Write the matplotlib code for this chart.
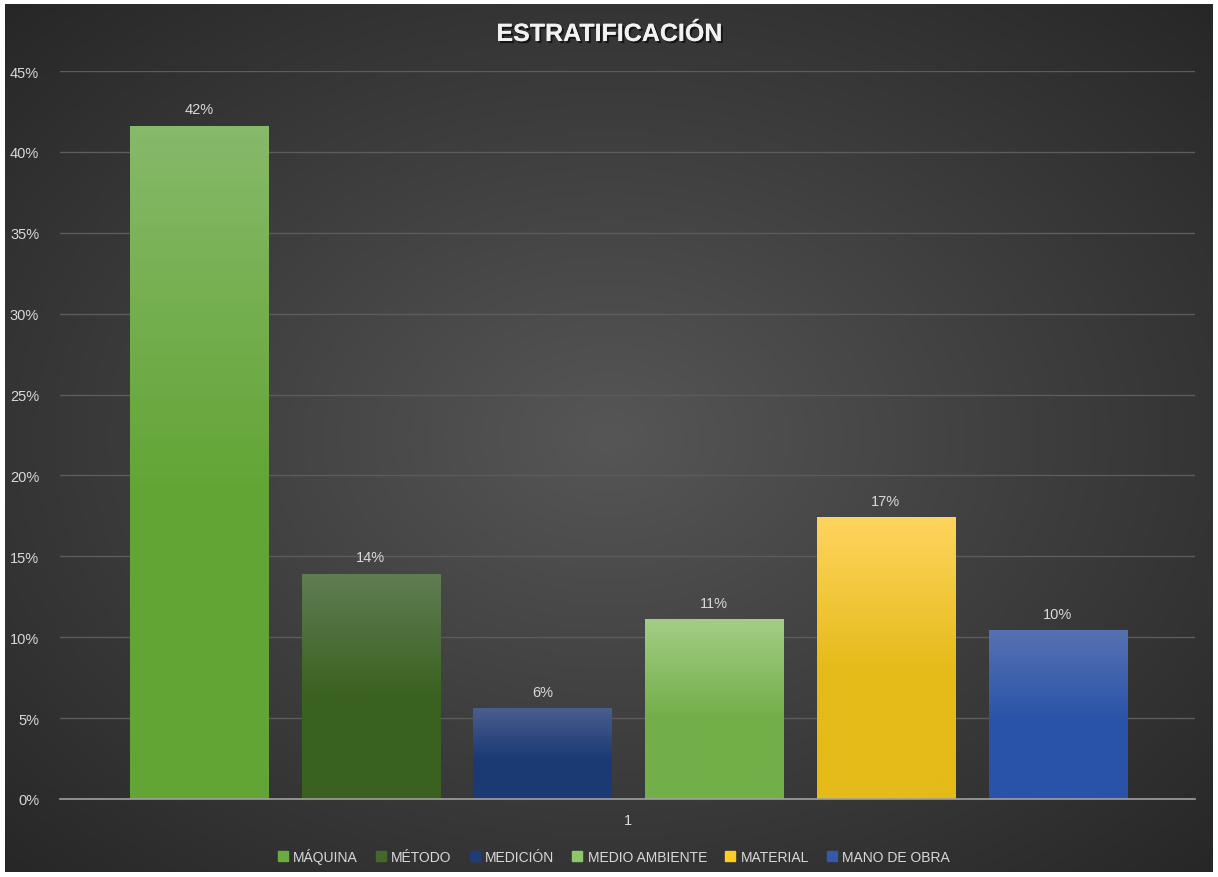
import numpy as np
import matplotlib.pyplot as plt
from matplotlib.colors import LinearSegmentedColormap
from matplotlib.patches import Rectangle
import matplotlib.patheffects as pe

plt.rcParams['font.family'] = ['Liberation Sans Narrow', 'Liberation Sans', 'DejaVu Sans']

categories = ['MÁQUINA', 'MÉTODO', 'MEDICIÓN', 'MEDIO AMBIENTE', 'MATERIAL', 'MANO DE OBRA']
values = [0.416, 0.139, 0.056, 0.111, 0.174, 0.104]
labels = ['42%', '14%', '6%', '11%', '17%', '10%']
top_colors = ['#86b969', '#5f7d52', '#4a5e8e', '#a3cd86', '#ffd45e', '#5671b2']
bottom_colors = ['#62a534', '#3a6120', '#1b3a74', '#72af48', '#e4bb18', '#2853a8']
legend_colors = ['#6aad3e', '#43692a', '#1f3c78', '#8ec66a', '#ffcc22', '#3558ab']
yticks = [0, 0.05, 0.10, 0.15, 0.20, 0.25, 0.30, 0.35, 0.40, 0.45]

fig = plt.figure(figsize=(12.18, 8.78), dpi=100, facecolor='white')

# dark radial background
bg = fig.add_axes([5 / 1218, 5 / 878, 1208 / 1218, 868 / 878])
yy, xx = np.mgrid[-1:1:300j, -1:1:400j]
r = np.sqrt(xx ** 2 + yy ** 2) / np.sqrt(2)
bg_cmap = LinearSegmentedColormap.from_list('bg', ['#565656', '#3e3e3e', '#272727'])
bg.imshow(r, cmap=bg_cmap, aspect='auto', extent=(0, 1, 0, 1))
bg.set_axis_off()

ax = fig.add_axes([60 / 1218, 1 - 800 / 878, 1135 / 1218, 728 / 878])
ax.patch.set_alpha(0)
x = np.arange(len(values))
w = 0.805
for i, v in enumerate(values):
    cmap = LinearSegmentedColormap.from_list('b%d' % i,
                                             [(0, bottom_colors[i]), (0.45, bottom_colors[i]), (1, top_colors[i])])
    grad = np.linspace(1, 0, 100).reshape(-1, 1)
    ax.imshow(grad, cmap=cmap, aspect='auto', extent=(x[i] - w / 2, x[i] + w / 2, 0, v), zorder=3)
    ax.text(x[i], v + 0.006, labels[i], ha='center', va='bottom', color='#d9d9d9', fontsize=10.5, zorder=4)

ax.set_xlim(-0.81, 5.80)
ax.set_ylim(0, 0.45)
ax.set_yticks(yticks)
ax.set_yticklabels(['%d%%' % round(t * 100) for t in yticks], color='#d9d9d9', fontsize=10.5)
ax.set_xticks([2.5])
ax.set_xticklabels(['1'], color='#d9d9d9', fontsize=10.5)
ax.tick_params(length=0, pad=10)
ax.tick_params(axis='y', pad=15)
ax.grid(axis='y', color='#5c5c5c', lw=1, zorder=1)
for s in ['top', 'right', 'left']:
    ax.spines[s].set_visible(False)
ax.spines['bottom'].set_color('#a0a0a0')
ax.spines['bottom'].set_linewidth(1.2)
ax.spines['bottom'].set_zorder(5)

fig.text(0.5, 1 - 35 / 878, 'ESTRATIFICACIÓN', ha='center', va='center', color='#f2f2f2',
         fontsize=18, fontweight='bold',
         path_effects=[pe.withSimplePatchShadow(offset=(1.5, -1.5), shadow_rgbFace='black', alpha=0.6), pe.Normal()])

handles = [Rectangle((0, 0), 1, 1, color=c) for c in legend_colors]
fig.legend(handles, categories, loc='center', bbox_to_anchor=(0.504, 1 - 857 / 878), ncol=6, frameon=False,
           labelcolor='#d9d9d9', fontsize=10, handlelength=0.7, handleheight=0.7, handletextpad=0.4,
           columnspacing=1.3)

fig.savefig('out.png', dpi=100, facecolor='white')
